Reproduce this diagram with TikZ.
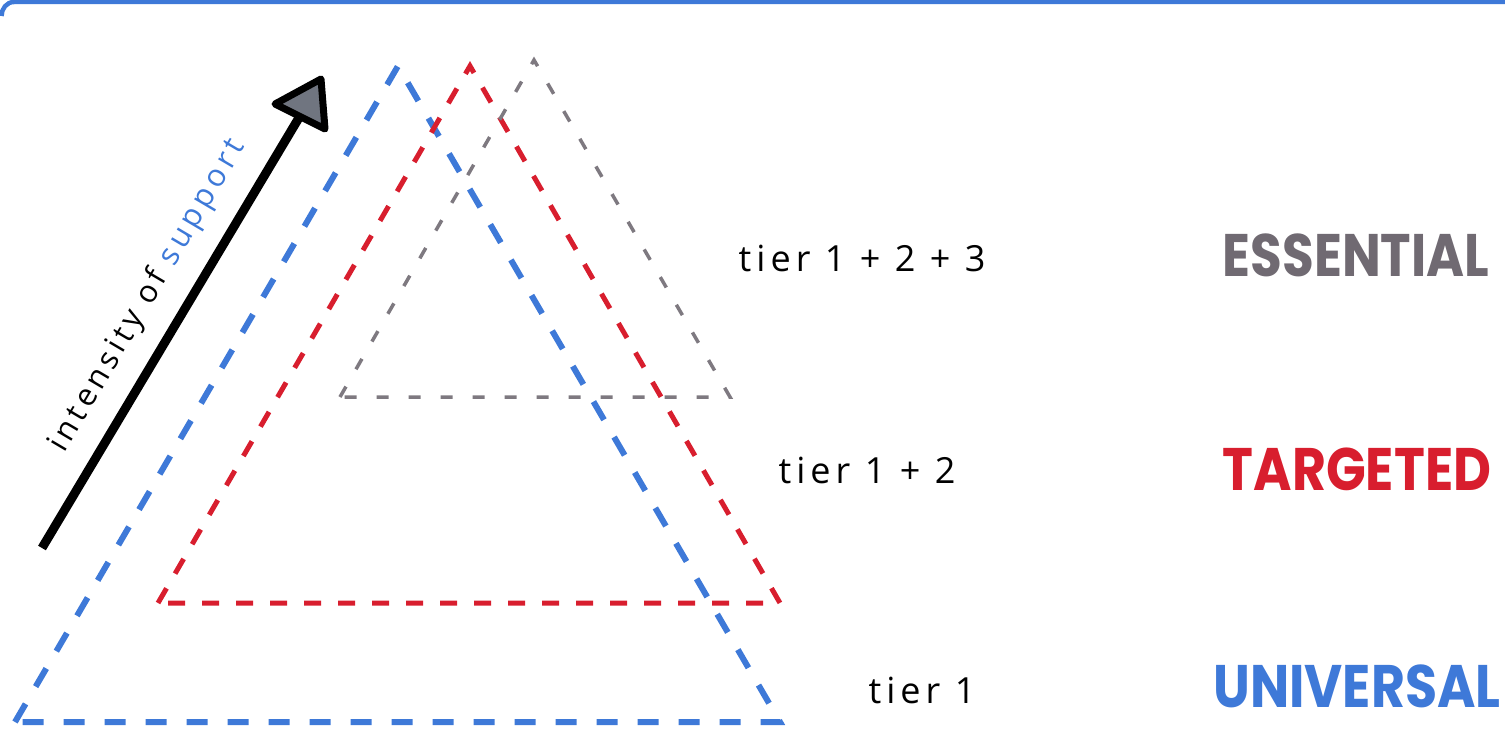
\documentclass[tikz,border=0pt]{standalone}
\usepackage{fontspec}
\setmainfont{Open Sans}
\newfontfamily\handfont{Open Sans}[LetterSpace=14]
\newfontfamily\bannerfont{Poppins}

\definecolor{tierblue}{RGB}{62,121,216}
\definecolor{tierred}{RGB}{216,30,46}
\definecolor{tiergray}{RGB}{112,106,114}
\definecolor{headgray}{RGB}{112,117,128}

\begin{document}
\begin{tikzpicture}[x=1pt,y=-1pt,
  univ/.style={tierblue,line width=6pt,dash pattern=on 21pt off 20pt},
  targ/.style={tierred,line width=5pt,dash pattern=on 17pt off 17pt},
  ess/.style={tiergray!90,line width=3.5pt,dash pattern=on 12pt off 20pt},
  tierlabel/.style={font=\handfont\fontsize{36}{40}\selectfont},
  banner/.style={font=\bannerfont\bfseries\fontsize{60}{64}\selectfont}]
\useasboundingbox (0,0) rectangle (1505,733);
% the frame edge along the top
\draw[tierblue,line width=4.5pt] (1.5,16) to[out=90,in=180] (14,2) -- (1505,2);
% the three tiers, one dashed triangle each
\coordinate (uTop) at (398,66);  \coordinate (uLeft) at (15,722);  \coordinate (uRight) at (780,722);
\coordinate (tTop) at (470,66);  \coordinate (tLeft) at (158,603); \coordinate (tRight) at (780,603);
\coordinate (eTop) at (534,60);  \coordinate (eLeft) at (340,397); \coordinate (eRight) at (730,397);
\draw[univ] (uLeft) -- (uTop) -- (uRight) -- cycle;
\draw[targ] (tLeft) -- (tTop) -- (tRight) -- cycle;
\draw[ess]  (eLeft) -- (eTop) -- (eRight) -- cycle;
% the arrow of growing support: shaft, then a filled head
\coordinate (aStart) at (42,548);
\coordinate (aBase) at (300,116);
\coordinate (hTip) at (321,79);
\coordinate (hA) at (275,104);
\coordinate (hB) at (325,129);
\draw[line width=9pt] (aStart) -- (aBase);
\filldraw[fill=headgray,line width=7pt,line join=round] (hTip) -- (hA) -- (hB) -- cycle;
\node[rotate=59.5,font=\handfont\fontsize{31}{34}\selectfont] (intens) at (148,296) {intensity of \textcolor{tierblue}{support}};
% what each tier receives
\node[tierlabel] (lab3) at (862,258) {tier 1 + 2 + 3};
\node[tierlabel] (lab2) at (867,470) {tier 1 + 2};
\node[tierlabel] (lab1) at (922,690) {tier 1};
% the tier names
\node[banner,tiergray] (ess) at (1356,255) {\scalebox{0.86}[1]{ESSENTIAL}};
\node[banner,tierred]  (targ) at (1357,469) {\scalebox{0.87}[1]{TARGETED}};
\node[banner,tierblue] (univ) at (1357,686) {\scalebox{0.87}[1]{UNIVERSAL}};
\end{tikzpicture}
\end{document}
